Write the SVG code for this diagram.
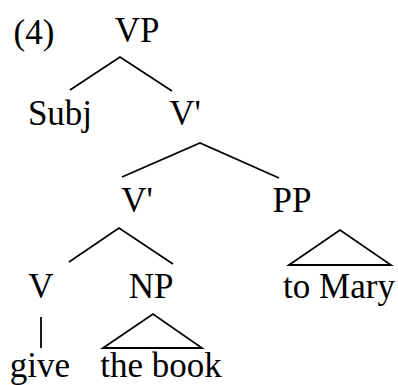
<svg xmlns="http://www.w3.org/2000/svg" width="398" height="385" viewBox="0 0 398 385">
<style>
text{font-family:"Liberation Serif","Times New Roman",serif;font-size:35px;fill:#000;text-anchor:middle}
.e{stroke:#000;stroke-width:1.8;fill:none;stroke-linejoin:miter}
</style>
<rect width="398" height="385" fill="#fff"/>
<text x="34" y="44">(4)</text>
<g id="VP"><text x="137" y="42">VP</text></g>
<g id="Subj"><text x="60" y="125">Subj</text></g>
<g id="Vbar1"><text x="185" y="125">V'</text></g>
<g id="Vbar2"><text x="137" y="212">V'</text></g>
<g id="PP"><text x="292" y="212">PP</text></g>
<g id="V"><text x="41" y="298">V</text></g>
<g id="NP"><text x="151" y="298">NP</text></g>
<g id="toMary"><text x="339" y="298">to Mary</text></g>
<g id="give"><text x="40" y="377">give</text></g>
<g id="thebook"><text x="161" y="377">the book</text></g>
<g id="connectors">
<polyline class="e" points="70,90 120,57 172,91"/>
<polyline class="e" points="122,177 200,143 279,178"/>
<polyline class="e" points="69,262 119,228 173,264"/>
<polygon class="e" points="289,265 340,230 391,265"/>
<line class="e" x1="41" y1="317" x2="41" y2="348"/>
<polygon class="e" points="103,348 153,314 202,348"/>
</g>
</svg>
